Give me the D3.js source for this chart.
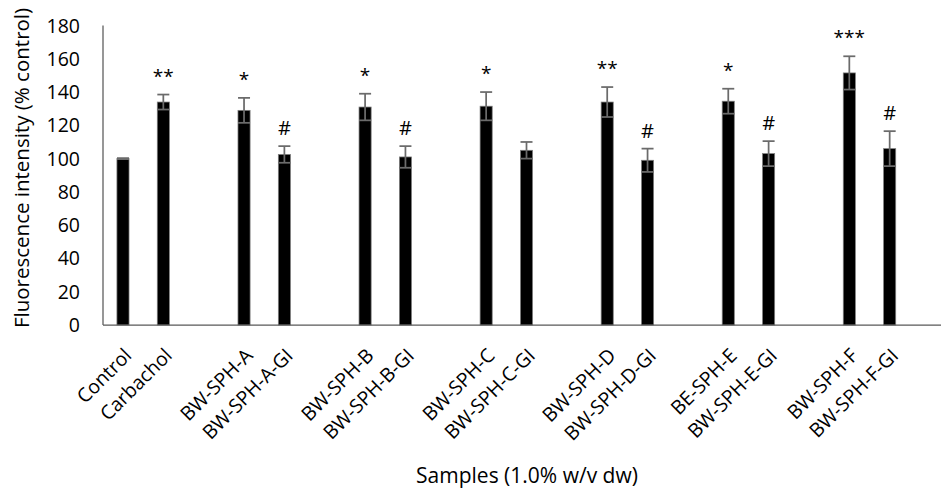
<!DOCTYPE html>
<html>
<head>
<meta charset="utf-8">
<script src="https://cdn.jsdelivr.net/npm/d3@7"></script>
<style>
	body { margin: 0; background: #fff; }
	svg { display: block; font-family: "Open Sans", sans-serif; }
</style>
</head>
<body>
<svg id="chart"></svg>
<script>
// values
const categories = ['Control', 'Carbachol',
	'BW-SPH-A', 'BW-SPH-A-GI',
	'BW-SPH-B', 'BW-SPH-B-GI',
	'BW-SPH-C', 'BW-SPH-C-GI',
	'BW-SPH-D', 'BW-SPH-D-GI',
	'BE-SPH-E', 'BW-SPH-E-GI',
	'BW-SPH-F', 'BW-SPH-F-GI']
const means = [100, 134, 129, 102.5, 131, 101, 131.5, 105, 134, 99, 134.5, 103, 151.5, 106]
const errors = [0.3, 4.5, 7.5, 5, 8, 6.5, 8.5, 5, 9, 7, 7.5, 7.5, 10, 10.5]
const marks = ['', '**', '*', '#', '*', '#', '*', '', '**', '#', '*', '#', '***', '#']
const yTicks = [0, 20, 40, 60, 80, 100, 120, 140, 160, 180]

const width = 941
const height = 488
const margin = { top: 25.5, left: 103, bottom: 163 }

const svg = d3.select('#chart')
	.attr('width', width)
	.attr('height', height)

// pairs of bars, each followed by an empty slot
const slots = []
categories.forEach((c, i) => {
	slots.push(c)
	if (i % 2 === 1) slots.push('gap' + i)
})

const x = d3.scaleBand()
	.domain(slots)
	.range([102.8, 950.2])
	.padding(0)

const y = d3.scaleLinear()
	.domain([0, 180])
	.range([height - margin.bottom, margin.top])

const barW = x.bandwidth() * 0.3
const data = categories.map((c, i) => ({ name: c, mean: means[i], err: errors[i], mark: marks[i] }))

// y tick labels
svg.append('g')
	.selectAll('text')
	.data(yTicks)
	.enter().append('text')
	.attr('x', 80)
	.attr('y', d => y(d))
	.attr('dy', '0.36em')
	.attr('text-anchor', 'end')
	.attr('font-size', 19.5)
	.attr('fill', '#000')
	.text(d => d)

// bars
svg.append('g')
	.selectAll('rect')
	.data(data)
	.enter().append('rect')
	.attr('x', d => x(d.name) + x.bandwidth() / 2 - barW / 2)
	.attr('y', d => y(d.mean))
	.attr('width', barW)
	.attr('height', d => y(0) - y(d.mean))
	.attr('fill', '#000')
	.attr('stroke', '#7f7f7f')
	.attr('stroke-width', 0.75)

// error bars
const eb = svg.append('g')
	.attr('stroke', '#6b6b6b')
	.attr('stroke-width', 1.75)
	.selectAll('g')
	.data(data)
	.enter().append('g')
	.attr('transform', d => `translate(${x(d.name) + x.bandwidth() / 2},0)`)
eb.append('line')
	.attr('y1', d => y(d.mean - d.err))
	.attr('y2', d => y(d.mean + d.err))
eb.append('line')
	.attr('x1', -6).attr('x2', 6)
	.attr('y1', d => y(d.mean + d.err))
	.attr('y2', d => y(d.mean + d.err))
eb.append('line')
	.attr('x1', -6).attr('x2', 6)
	.attr('y1', d => y(d.mean - d.err))
	.attr('y2', d => y(d.mean - d.err))

// significance marks
svg.append('g')
	.selectAll('text')
	.data(data.filter(d => d.mark))
	.enter().append('text')
	.attr('x', d => x(d.name) + x.bandwidth() / 2)
	.attr('y', d => y(d.mean + d.err) - (d.mark === '#' ? 11 : 12))
	.attr('text-anchor', 'middle')
	.attr('font-size', d => d.mark === '#' ? 20 : 19)
	.attr('fill', '#000')
	.text(d => d.mark)

// axis lines
svg.append('line')
	.attr('x1', margin.left).attr('x2', margin.left)
	.attr('y1', y(180)).attr('y2', y(0))
	.attr('stroke', '#595959')
	.attr('stroke-width', 1.25)
svg.append('line')
	.attr('x1', margin.left).attr('x2', width)
	.attr('y1', y(0)).attr('y2', y(0))
	.attr('stroke', '#595959')
	.attr('stroke-width', 1.25)

// category labels, rotated
svg.append('g')
	.selectAll('text')
	.data(categories)
	.enter().append('text')
	.attr('transform', d => `translate(${x(d) + x.bandwidth() / 2 + 5},352) rotate(-45)`)
	.attr('dy', '0.35em')
	.attr('text-anchor', 'end')
	.attr('font-size', 19.5)
	.attr('fill', '#000')
	.text(d => d)

// axis titles
svg.append('text')
	.attr('x', 527)
	.attr('y', 483)
	.attr('text-anchor', 'middle')
	.attr('font-size', 21)
	.attr('fill', '#000')
	.text('Samples (1.0% w/v dw)')

svg.append('text')
	.attr('transform', 'translate(29,168) rotate(-90)')
	.attr('text-anchor', 'middle')
	.attr('font-size', 20.5)
	.attr('fill', '#000')
	.text('Fluorescence intensity (% control)')
</script>
</body>
</html>
